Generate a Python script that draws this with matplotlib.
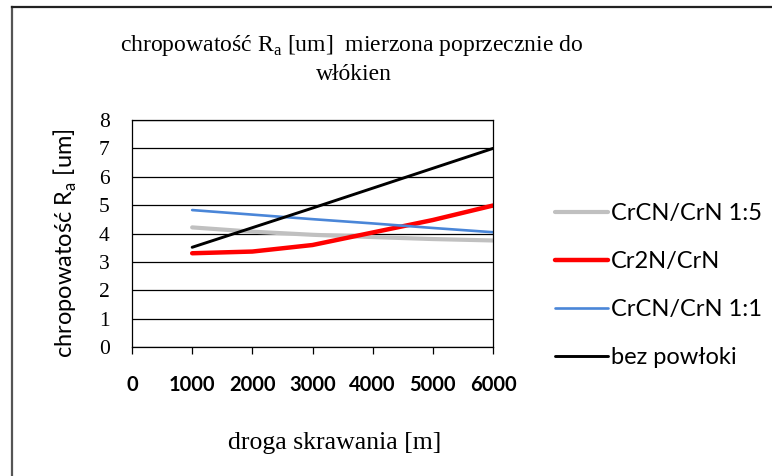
import matplotlib
matplotlib.use("Agg")
import matplotlib.pyplot as plt
from matplotlib.lines import Line2D

# Data
distance = [1000, 2000, 3000, 4000, 5000, 6000]
crcn_15 = [4.22, 4.07, 3.96, 3.88, 3.81, 3.76]
cr2n_crn = [3.31, 3.37, 3.60, 4.04, 4.48, 4.99]
crcn_11 = [4.83, 4.67, 4.51, 4.36, 4.20, 4.05]
bez = [3.52, 4.21, 4.90, 5.60, 6.30, 7.00]
series_names = ["CrCN/CrN 1:5", "Cr2N/CrN", "CrCN/CrN 1:1", "bez powłoki"]
x_ticks = [0, 1000, 2000, 3000, 4000, 5000, 6000]
y_ticks = [0, 1, 2, 3, 4, 5, 6, 7, 8]

W, H = 772, 476
fig = plt.figure(figsize=(W / 100, H / 100), dpi=100)
fig.patch.set_facecolor("white")

x0, x1 = 132, 493
y0, y1 = 347.3, 120
ax = fig.add_axes([x0 / W, 1 - y0 / H, (x1 - x0) / W, (y0 - y1) / H])

styles = [
    dict(color="#c0c0c0", lw=3.0),
    dict(color="#ff0000", lw=3.2),
    dict(color="#4a86d8", lw=1.9),
    dict(color="#000000", lw=2.1),
]
for ys, name, st in zip([crcn_15, cr2n_crn, crcn_11, bez], series_names, styles):
    ax.plot(distance, ys, label=name, solid_capstyle="round", **st)

ax.set_xlim(0, 6000)
ax.set_ylim(0, 8)
ax.set_xticks(x_ticks)
ax.set_yticks(y_ticks)
ax.yaxis.grid(True, color="black", lw=0.9)
ax.set_axisbelow(True)
for s in ax.spines.values():
    s.set_color("black")
    s.set_linewidth(0.9)

ax.tick_params(axis="x", direction="out", length=5, width=0.9, pad=15)
ax.tick_params(axis="y", length=0, pad=16)
for lab in ax.get_xticklabels():
    lab.set_fontfamily("Lato")
    lab.set_fontweight("bold")
    lab.set_fontsize(14.5)
for lab in ax.get_yticklabels():
    lab.set_fontfamily("Liberation Serif")
    lab.set_fontsize(15.5)

fig.text(65 / W, 1 - 243 / H, "chropowatość R$_\\mathregular{a}$ [um]", rotation=90,
         ha="center", va="center", fontsize=17, family="Lato")
fig.text(335 / W, 1 - 443 / H, "droga skrawania [m]", ha="center", va="center",
         fontsize=18.5, family="Liberation Serif")
fig.text(352 / W, 1 - 46 / H, "chropowatość R$_\\mathregular{a}$ [um]  mierzona poprzecznie do",
         ha="center", va="center", fontsize=17, family="Liberation Serif")
fig.text(354 / W, 1 - 74 / H, "włókien", ha="center", va="center",
         fontsize=17, family="Liberation Serif")

leg = fig.legend(loc="upper left", bbox_to_anchor=(555 / W, 1 - 203 / H),
                 frameon=False, prop=dict(family="Lato", size=17),
                 handlelength=2.25, handletextpad=0.13, labelspacing=1.15,
                 borderaxespad=0, borderpad=0)

# outer chart border (left and top)
fig.add_artist(Line2D([12.5 / W, 12.5 / W], [0, 1 - 6.5 / H], color="#555555", lw=1.6))
fig.add_artist(Line2D([12.5 / W, 1], [1 - 6.5 / H, 1 - 6.5 / H], color="#222222", lw=1.6))

fig.savefig("out.png", dpi=100)
